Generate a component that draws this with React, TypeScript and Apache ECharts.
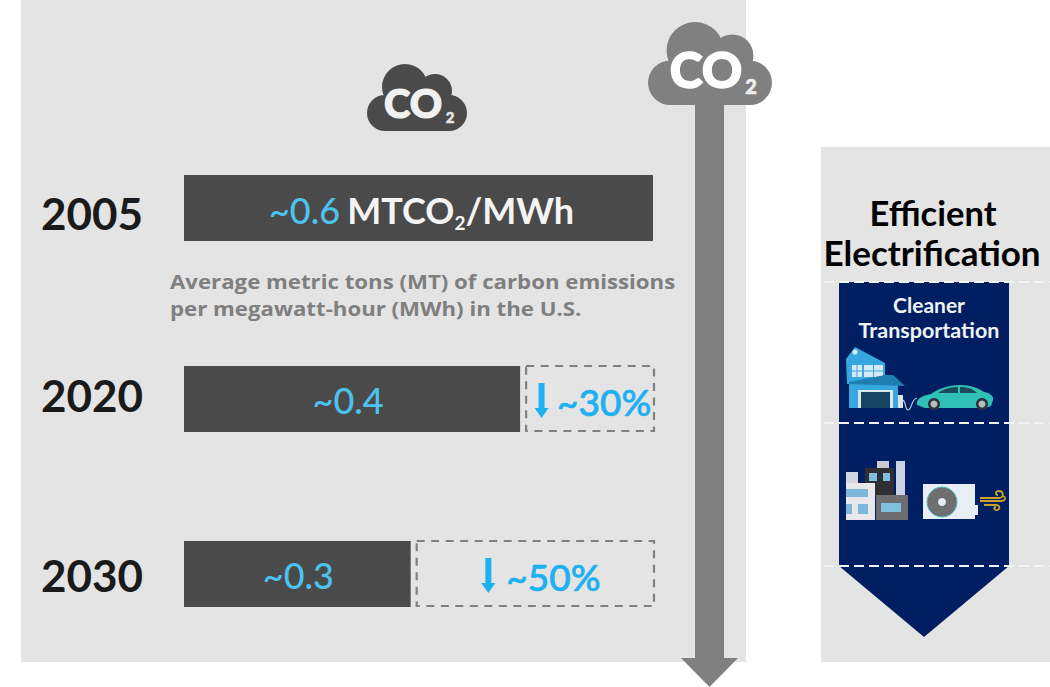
import React, { useEffect, useRef } from "react";
import * as echarts from "echarts";

// Emission intensity of U.S. electricity, MTCO2 per MWh
const years = ["2005", "2020", "2030"];
const intensity = [0.6, 0.43, 0.29];
const baseline = 0.6;
const reductions = ["", "~30%", "~50%"];
const unitParts = ["MTCO", "2", "/MWh"];
const noteLines = [
  "Average metric tons (MT) of carbon emissions",
  "per megawatt-hour (MWh) in the U.S.",
];
const titleLines = ["Efficient", "Electrification"];
const bannerLines = ["Cleaner", "Transportation"];

const rowTops = [175, 366, 541];
const yearPadding = [
  [9, 0, 0, 0],
  [0, 0, 9, 0],
  [1, 0, 0, 0],
];
const valueOffsets = [
  [3, 2],
  [-4, 1],
  [1, 1],
];
const arrowShift = [0, -0.5, 1];
const textGap = [0, 15.5, 18];

const FONT = "Lato";
const BLUE = "#1fb0f2";
const SKY = "#4cc3ef";
const DARK = "#4a4a4a";
const GREY = "#808080";
const NAVY = "#001f63";

echarts.graphic.registerShape(
  "cloud",
  echarts.graphic.extendPath(
    "M0 49A18 18 0 1 1 36 49A18 18 0 1 1 0 49Z" +
      "M15 23A23 23 0 1 1 61 23A23 23 0 1 1 15 23Z" +
      "M51 27A17 17 0 1 1 85 27A17 17 0 1 1 51 27Z" +
      "M64 49A18 18 0 1 1 100 49A18 18 0 1 1 64 49Z" +
      "M18 30H82V67H18Z",
    {}
  )
);
echarts.graphic.registerShape(
  "carBody",
  echarts.graphic.extendPath(
    "M917 405C916 399 921 396 931 394C938 389 948 385 960 385C971 385 978 388 984 392C990 393 994 396 993 400L991 406L985 408H925Z",
    {}
  )
);
echarts.graphic.registerShape(
  "carGlass",
  echarts.graphic.extendPath(
    "M938 393C944 389 950 387 958 387V393ZM960 387C968 387 973 389 977 393H960Z",
    {}
  )
);
echarts.graphic.registerShape(
  "plugCable",
  echarts.graphic.extendPath(
    "M903 400C906 402 905 410 908 410C912 410 911 399 917 398",
    {}
  )
);
echarts.graphic.registerShape(
  "windGusts",
  echarts.graphic.extendPath(
    "M980 498H999C1004 498 1004 491 999 491C995 491 995 495 998 495" +
      "M980 501H1001C1006 501 1006 497 1003 496" +
      "M984 505H996C1001 505 1000 511 996 510C993 509 994 507 996 507",
    {}
  )
);

const rect = (x: number, y: number, w: number, h: number, fill: string) => ({
  type: "rect",
  shape: { x, y, width: w, height: h },
  style: { fill },
});
const poly = (points: number[][], fill: string) => ({
  type: "polygon",
  shape: { points },
  style: { fill },
});
const dashed = (y: number) => ({
  type: "line",
  shape: { x1: 824, y1: y, x2: 1050, y2: y },
  style: { stroke: "#f4f4f4", lineWidth: 2, lineDash: [10, 5] },
});
const label = (
  text: string,
  x: number,
  y: number,
  fontSize: number,
  fill: string,
  opts: Record<string, unknown> = {}
) => ({
  type: "text",
  style: {
    text,
    x,
    y,
    fill,
    fontSize,
    fontWeight: 700,
    fontFamily: FONT,
    align: "center",
    verticalAlign: "middle",
    ...opts,
  },
});
// Explanatory line set in a low, wide cut of the face
const noteLine = (text: string, y: number) => ({
  ...label(text, 0, 0, 19.5, "#7f7f7f", {
    fontFamily: "Open Sans",
    align: "left",
  }),
  x: 170,
  y,
  scaleX: 1.14,
});

function cloud(x: number, y: number, scale: number, fill: string) {
  return {
    type: "cloud",
    x,
    y,
    scaleX: scale,
    scaleY: scale,
    style: { fill },
  };
}

// Panels, clouds, the downward arrow and the electrification banner
function backdrop() {
  const heavy = (color: string, width: number) => ({
    fontWeight: 900,
    stroke: color,
    lineWidth: width,
  });
  return [
    rect(21, 0, 725, 662, "#e4e4e4"),
    rect(821, 147, 229, 515, "#e4e4e4"),

    cloud(367, 64, 1, DARK),
    label("CO", 413, 103, 40, "#f1f1f1", heavy("#f1f1f1", 1.2)),
    label("2", 450, 117, 15, "#e8e8e8", heavy("#e8e8e8", 0.5)),

    noteLine(noteLines[0], 282),
    noteLine(noteLines[1], 309),

    cloud(648, 22, 1.24, GREY),
    rect(695, 95, 29, 565, GREY),
    poly([[681, 658], [738, 658], [709.5, 687]], GREY),
    label("CO", 706, 69, 50, "#ffffff", heavy("#ffffff", 1.5)),
    label("2", 751, 86, 20, "#eeeeee", heavy("#eeeeee", 0.6)),

    label(titleLines[0], 933, 212, 34.5, "#000000"),
    label(titleLines[1], 932, 252, 35, "#000000"),

    poly(
      [[839, 282], [1009, 282], [1009, 566], [924, 637], [839, 566]],
      NAVY
    ),
    dashed(282),
    dashed(423),
    dashed(566),
    label(bannerLines[0], 929, 304, 21, "#f0f3f8"),
    label(bannerLines[1], 929, 330, 21.5, "#f0f3f8"),

    // House with charger
    poly([[846, 359], [855, 347], [885, 363], [885, 384], [847, 384]], "#36a8df"),
    { type: "circle", shape: { cx: 855, cy: 352, r: 2.5 }, style: { fill: "#dcecf6" } },
    rect(852, 365, 10, 12, "#d5eaf6"),
    rect(864, 365, 19, 12, "#d5eaf6"),
    rect(856.5, 365, 1, 12, "#36a8df"),
    rect(873, 365, 1, 12, "#36a8df"),
    rect(852, 370.5, 31, 1, "#36a8df"),
    rect(849, 384, 49, 24, "#36a8df"),
    poly([[849, 384], [849, 382], [885, 375], [893, 375], [905, 386]], "#1f7fb3"),
    rect(858, 390, 35, 18, "#d9e6ee"),
    rect(861, 392, 29, 16, "#14445f"),
    rect(898, 395, 5, 13, "#dfe6ea"),
    {
      type: "plugCable",
      style: { fill: "none", stroke: "#b7c6d6", lineWidth: 1.2 },
    },

    // Electric car
    { type: "carBody", style: { fill: "#2fc0b6" } },
    { type: "carGlass", style: { fill: "#1b4a5c" } },
    { type: "circle", shape: { cx: 934, cy: 404, r: 6 }, style: { fill: "#2c3338" } },
    { type: "circle", shape: { cx: 934, cy: 404, r: 3.5 }, style: { fill: "#b9bfc4" } },
    { type: "circle", shape: { cx: 982, cy: 404, r: 6 }, style: { fill: "#2c3338" } },
    { type: "circle", shape: { cx: 982, cy: 404, r: 3.5 }, style: { fill: "#b9bfc4" } },

    // Factory
    rect(877, 461, 12, 7, "#c8ccd4"),
    rect(896, 461, 9, 35, "#c9d3e6"),
    rect(846, 472, 12, 11, "#d2d5dc"),
    rect(865, 468, 29, 28, "#2e2e33"),
    rect(869, 473, 8, 8, "#7fc0de"),
    rect(883, 473, 7, 8, "#7fc0de"),
    rect(846, 483, 29, 37, "#e8e8ea"),
    rect(846, 489, 22, 8, "#7db8dc"),
    rect(846, 504, 6, 10, "#7db8dc"),
    rect(858, 504, 10, 10, "#7db8dc"),
    rect(876, 495, 32, 25, "#6d6d70"),
    rect(881, 503, 20, 9, "#7fc0de"),

    // Heat pump
    rect(923, 484, 52, 35, "#e9edf6"),
    rect(975, 505, 3, 10, "#e9edf6"),
    { type: "circle", shape: { cx: 942, cy: 502, r: 15 }, style: { fill: "#6f6f6f", stroke: "#4bbfc0", lineWidth: 1 } },
    { type: "circle", shape: { cx: 942, cy: 502, r: 4 }, style: { fill: "#e6ebf2" } },
    { type: "windGusts", style: { fill: "none", stroke: "#c9a227", lineWidth: 1.8 } },
  ];
}

// Dashed box holding the reduction still to reach the 2005 level, with its arrow and text
function reductionBox(params: any, api: any) {
  const start = api.coord([api.value(0), 0]);
  const end = api.coord([api.value(1), 0]);
  const row = api.value(2);
  const text = reductions[row];
  const band = api.size([0, 1])[1];
  const x0 = start[0] + 6;
  const x1 = end[0] + 1;
  const top = start[1] - band / 2;
  const arrowX = (x0 + x1) / 2 - 48 + arrowShift[row];
  const cy = start[1];
  return {
    type: "group",
    children: [
      {
        type: "rect",
        shape: { x: x0, y: top, width: x1 - x0, height: band - 1 },
        style: { fill: "none", stroke: "#808080", lineWidth: 2.2, lineDash: [8, 6.5] },
      },
      {
        type: "rect",
        shape: { x: arrowX - 3, y: cy - 16, width: 6, height: 26 },
        style: { fill: BLUE },
      },
      {
        type: "polygon",
        shape: { points: [[arrowX - 7, cy + 9], [arrowX + 7, cy + 9], [arrowX, cy + 19]] },
        style: { fill: BLUE },
      },
      {
        type: "text",
        style: {
          text,
          x: arrowX + textGap[row],
          y: cy + 2,
          fill: BLUE,
          stroke: BLUE,
          lineWidth: 0.7,
          fontSize: 37,
          fontWeight: 500,
          fontFamily: FONT,
          align: "left",
          verticalAlign: "middle",
        },
      },
    ],
  };
}

function buildOption() {
  const grids = years.map((_, i) => ({
    left: 184,
    width: 469,
    top: rowTops[i],
    height: 66,
  }));
  const xAxes = years.map((_, i) => ({
    type: "value",
    gridIndex: i,
    min: 0,
    max: baseline,
    show: false,
  }));
  const yAxes = years.map((year, i) => ({
    type: "category",
    gridIndex: i,
    data: [year],
    axisLine: { show: false },
    axisTick: { show: false },
    axisLabel: {
      margin: 41,
      formatter: (value: string) => `{y|${value}}`,
      rich: {
        y: {
          color: "#1a1a1a",
          fontSize: 44,
          fontWeight: 700,
          fontFamily: FONT,
          padding: yearPadding[i],
        },
      },
    },
  }));
  const bars = years.map((year, i) => ({
    type: "bar",
    name: year,
    xAxisIndex: i,
    yAxisIndex: i,
    data: [intensity[i]],
    barWidth: "100%",
    itemStyle: { color: DARK },
    label: {
      show: true,
      position: "inside",
      offset: valueOffsets[i],
      formatter: (p: any) => {
        const value = `~${p.value.toFixed(1)}`;
        return i === 0
          ? `{v|${value}} {m|${unitParts[0]}}{s|${unitParts[1]}}{u|${unitParts[2]}}`
          : `{v|${value}}`;
      },
      rich: {
        v: { color: SKY, fontSize: 36, fontFamily: FONT, fontWeight: 500 },
        m: {
          color: "#f4f4f4",
          fontSize: 36,
          fontFamily: FONT,
          fontWeight: 700,
          padding: [0, 0, 0, 4],
        },
        u: { color: "#f4f4f4", fontSize: 36, fontFamily: FONT, fontWeight: 700 },
        s: {
          color: "#f4f4f4",
          fontSize: 19,
          fontFamily: FONT,
          fontWeight: 700,
          verticalAlign: "bottom",
          padding: [0, 0, -4, 0],
        },
      },
    },
  }));
  const boxes = years.slice(1).map((year, k) => ({
    type: "custom",
    name: `${year} reduction`,
    xAxisIndex: k + 1,
    yAxisIndex: k + 1,
    renderItem: reductionBox,
    data: [[intensity[k + 1], baseline, k + 1]],
    encode: { x: [0, 1] },
    silent: true,
  }));
  return {
    animation: false,
    backgroundColor: "#ffffff",
    grid: grids,
    xAxis: xAxes,
    yAxis: yAxes,
    series: [...bars, ...boxes],
    graphic: { elements: backdrop() },
  };
}

export default function App() {
  const ref = useRef<HTMLDivElement>(null);
  useEffect(() => {
    document.body.style.margin = "0";
    document.body.style.overflow = "hidden";
    const chart = echarts.init(ref.current!, undefined, { renderer: "svg" });
    chart.setOption(buildOption() as any);
    return () => chart.dispose();
  }, []);
  return <div ref={ref} style={{ width: 1050, height: 687 }} />;
}
